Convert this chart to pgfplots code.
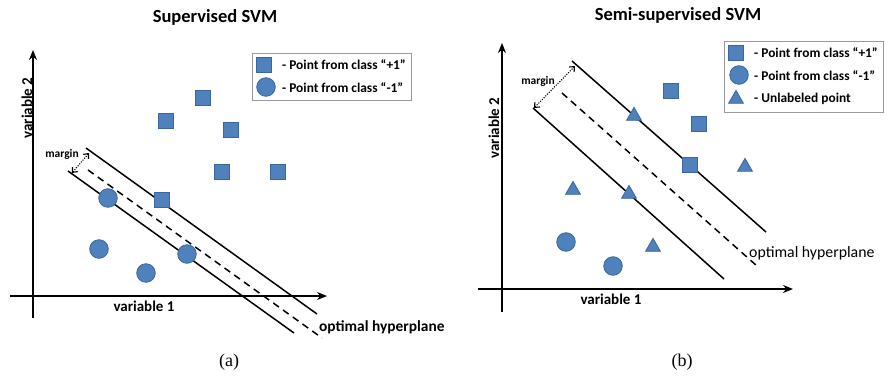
\documentclass[border=0pt]{standalone}
\usepackage{fontspec}
\setmainfont{Carlito}
\newfontfamily\seriff{Liberation Serif}
\usepackage{pgfplots}
\pgfplotsset{compat=1.18}
\usetikzlibrary{arrows.meta}
\definecolor{mblue}{HTML}{4F81BD}
\definecolor{medge}{HTML}{3B679E}
\definecolor{lgray}{HTML}{9A9A9A}
\begin{document}
\begin{tikzpicture}
\begin{axis}[width=885pt,height=380pt,scale only axis,
  xmin=0,xmax=885,ymin=0,ymax=380,y dir=reverse,hide axis,clip=false]
\addplot[draw=none] coordinates {(0,0) (885,380)};
\pgfplotsset{
  sq/.style={only marks,mark=square*,mark size=7.2pt,mark options={fill=mblue,draw=medge,line width=0.8pt}},
  ci/.style={only marks,mark=*,mark size=9.3pt,mark options={fill=mblue,draw=medge,line width=0.8pt}},
  tr/.style={only marks,mark=triangle*,mark size=8.6pt,mark options={fill=mblue,draw=medge,line width=0.8pt}},
  ax/.style={black,line width=2.3pt,-{Stealth[length=10pt,width=8pt]}},
  sv/.style={black,line width=1.5pt},
  hp/.style={black,line width=1.5pt,dash pattern=on 7pt off 5pt},
  mg/.style={black,line width=1.1pt,dash pattern=on 1.1pt off 1.4pt,{Straight Barb[length=4pt,width=7pt,line width=1.1pt]}-{Straight Barb[length=4pt,width=7pt,line width=1.1pt]}},
}
% ---------------- panel (a) ----------------
\addplot[ax] coordinates {(10,296) (327,296)};
\addplot[ax] coordinates {(33,318) (33,50)};
\addplot[sv] coordinates {(86,148) (317,314)};
\addplot[sv] coordinates {(68,171) (294,333)};
\addplot[hp] coordinates {(88,170) (322,338)};
\addplot[mg] coordinates {(72,173) (89,153)};
\addplot[sq] coordinates {(203,98) (166,121) (231,130) (222,172) (278,172) (162,200)};
\addplot[ci] coordinates {(108,198) (99,249) (187,254) (146,273)};
\addplot[lgray,line width=1pt] coordinates {(252,53) (411,53) (411,100) (252,100) (252,53)};
\addplot[sq] coordinates {(264,65)};
\addplot[ci] coordinates {(266,87)};
\node[font=\fontsize{18.5}{22}\selectfont\bfseries] at (axis cs:215,17) {Supervised SVM};
\node[font=\fontsize{15}{18}\selectfont\bfseries,rotate=90] at (axis cs:27,108) {variable 2};
\node[font=\fontsize{15}{18}\selectfont\bfseries] at (axis cs:144,306) {variable 1};
\node[font=\fontsize{13.4}{16}\selectfont\bfseries,anchor=west,inner sep=0pt] at (axis cs:282,65) {- Point from class “+1”};
\node[font=\fontsize{13.4}{16}\selectfont\bfseries,anchor=west,inner sep=0pt] at (axis cs:282,88) {- Point from class “-1”};
\node[font=\fontsize{11.5}{14}\selectfont\bfseries] at (axis cs:62,154) {margin};
\node[font=\fontsize{15.4}{18}\selectfont\bfseries,anchor=west,inner sep=0pt] at (axis cs:319,327) {optimal hyperplane};
\node[font=\fontsize{18}{21}\selectfont\seriff] at (axis cs:229,362) {(a)};
% ---------------- panel (b) ----------------
\addplot[ax] coordinates {(478,289) (793,289)};
\addplot[ax] coordinates {(502,312) (502,43)};
\addplot[sv] coordinates {(572,61) (766,232)};
\addplot[sv] coordinates {(533,108) (724,279)};
\addplot[hp] coordinates {(562,93) (757,266)};
\addplot[mg] coordinates {(534,108) (575,66)};
\addplot[sq] coordinates {(671,91) (699,124) (690,165)};
\addplot[tr] coordinates {(634,116) (745,167) (573,190) (629,194) (653,247)};
\addplot[ci] coordinates {(566,242) (613,266)};
\addplot[lgray,line width=1pt] coordinates {(724,41) (883,41) (883,112) (724,112) (724,41)};
\addplot[sq] coordinates {(736,53)};
\addplot[ci] coordinates {(739,75)};
\addplot[tr] coordinates {(736,99)};
\node[font=\fontsize{18.5}{22}\selectfont\bfseries] at (axis cs:678,15) {Semi-supervised SVM};
\node[font=\fontsize{15}{18}\selectfont\bfseries,rotate=90] at (axis cs:494,128) {variable 2};
\node[font=\fontsize{15}{18}\selectfont\bfseries] at (axis cs:611,299) {variable 1};
\node[font=\fontsize{13.4}{16}\selectfont\bfseries,anchor=west,inner sep=0pt] at (axis cs:754,53) {- Point from class “+1”};
\node[font=\fontsize{13.4}{16}\selectfont\bfseries,anchor=west,inner sep=0pt] at (axis cs:754,76) {- Point from class “-1”};
\node[font=\fontsize{13.4}{16}\selectfont\bfseries,anchor=west,inner sep=0pt] at (axis cs:754,99) {- Unlabeled point};
\node[font=\fontsize{11.5}{14}\selectfont\bfseries] at (axis cs:538,81) {margin};
\node[font=\fontsize{15.8}{18}\selectfont,anchor=west,inner sep=0pt] at (axis cs:749,253) {optimal hyperplane};
\node[font=\fontsize{18}{21}\selectfont\seriff] at (axis cs:682,362) {(b)};
\end{axis}
\end{tikzpicture}
\end{document}
